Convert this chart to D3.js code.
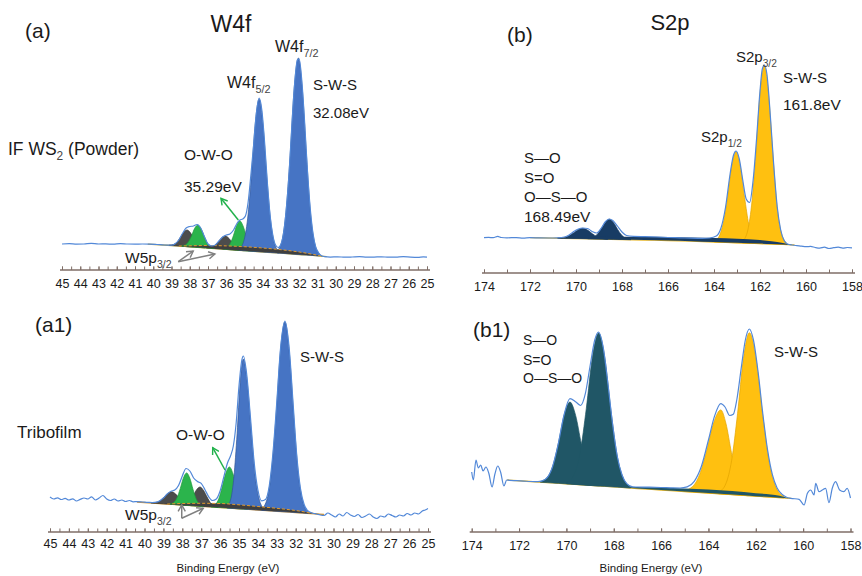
<!DOCTYPE html>
<html><head><meta charset="utf-8">
<script src="https://cdn.jsdelivr.net/npm/d3@7"></script>
<style>
body{margin:0;background:#fff}
svg{display:block}
text{font-family:"Liberation Sans",Arial,sans-serif;fill:#1a1a1a}
</style></head>
<body><svg id="c" width="862" height="576"></svg>
<script>
// ---------- tick labels ----------
const W_TICK_LABELS = [45,44,43,42,41,40,39,38,37,36,35,34,33,32,31,30,29,28,27,26,25];
const S_TICK_LABELS = [174,172,170,168,166,164,162,160,158];

// ---------- panel (a) W4f, IF WS2 powder : [eV, intensity a.u.] ----------
const aBackground = [[40.3,25.9],[39,24.5],[38,23.2],[37,22],[36,20.6],[35,19.3],[34,18],[33,16.8],[32,15.5],[31,14.2],[30.5,13.4]];
const aWedge  = [[38.6,0],[38,1],[37,2.5],[36,3.5],[35,4],[34,4],[33,3.5],[32,2.5],[31.2,1],[30.7,0]];
const aGray1  = [[39.13,0.15],[38.9,1.04],[38.71,3.5],[38.53,8.3],[38.34,14],[38.15,16.6],[37.96,14],[37.78,8.3],[37.59,3.5],[37.4,1.04],[37.18,0.15]];
const aGreen1 = [[38.46,0.2],[38.25,1.4],[38.08,4.7],[37.9,11.2],[37.73,18.8],[37.55,22.4],[37.38,18.8],[37.2,11.2],[37.03,4.7],[36.85,1.4],[36.64,0.2]];
const aGray2  = [[37.09,0.12],[36.85,0.83],[36.65,2.8],[36.45,6.65],[36.25,11.2],[36.05,13.3],[35.85,11.2],[35.65,6.65],[35.45,2.8],[35.25,0.83],[35.01,0.12]];
const aGreen2 = [[36.16,0.26],[35.95,1.84],[35.78,6.2],[35.6,14.7],[35.43,24.7],[35.25,29.4],[35.08,24.7],[34.9,14.7],[34.73,6.2],[34.55,1.84],[34.34,0.26]];
const aBlue52 = [[35.29,1.4],[35.04,9.5],[34.83,32],[34.62,76],[34.41,128],[34.2,152.7],[33.99,128],[33.78,76],[33.57,32],[33.36,9.5],[33.11,1.4]];
const aBlue72 = [[33.22,1.8],[32.95,12.3],[32.73,41.2],[32.5,98.2],[32.28,165.2],[32.05,196.4],[31.83,165.2],[31.6,98.2],[31.38,41.2],[31.15,12.3],[30.88,1.8]];
const aEnvelope = [[45,26],[44.6,26.3],[44.2,25.9],[43.8,26],[43.4,26.6],[43,26],[42.6,26.1],[42.2,25.8],[41.8,26.4],[41.4,26],[41,25.9],[40.6,26],[40.2,25.9],[39.8,25.5],[39.4,25],[39,24.8],[38.8,26.2],[38.6,30],[38.4,36.5],[38.2,42],[38,43.5],[37.8,44],[37.6,45.5],[37.4,42],[37.2,33.5],[37,26],[36.8,24],[36.6,25],[36.4,29],[36.2,33],[36,35],[35.8,36],[35.6,40],[35.4,47],[35.25,50],[35.1,51],[34.95,54],[34.8,68],[34.65,95],[34.5,125],[34.35,157],[34.2,172],[34.05,160],[33.9,128],[33.75,88],[33.6,55],[33.45,35],[33.3,25],[33.15,22.5],[33,26],[32.85,38],[32.7,63],[32.55,99],[32.4,146],[32.25,187],[32.1,210],[32,211],[31.85,187],[31.7,146],[31.55,99],[31.4,62],[31.25,37],[31.1,23],[30.95,17.5],[30.8,14.5],[30.6,13.3],[30.3,12.9],[29.9,13.2],[29.5,12.8],[29.1,13],[28.7,13.3],[28.3,12.8],[27.9,12.9],[27.5,13.2],[27.1,12.8],[26.7,12.9],[26.3,13.3],[25.9,12.9],[25.5,12.7],[25.2,13.1],[25,12.9]];

// ---------- panel (a1) W4f, tribofilm ----------
const a1Background = [[40.4,30],[39,28.2],[38,27],[37,25.7],[36,24.5],[35,23.2],[34,22],[33,20.7],[32,19.5],[31,18.2],[30.5,17.5]];
const a1Wedge  = [[38.8,0],[38,1.5],[37,3],[36,4],[35,4],[34,3.5],[33,3],[32,2],[31.3,0.8],[30.8,0]];
const a1Gray1  = [[39.65,0.11],[39.4,0.78],[39.19,2.6],[38.98,6.25],[38.77,10.5],[38.56,12.5],[38.35,10.5],[38.14,6.25],[37.93,2.6],[37.72,0.78],[37.47,0.11]];
const a1Green1 = [[38.65,0.29],[38.45,2],[38.28,6.8],[38.11,16.2],[37.94,27.2],[37.77,32.4],[37.6,27.2],[37.43,16.2],[37.26,6.8],[37.09,2],[36.89,0.29]];
const a1Gray2  = [[38.02,0.17],[37.8,1.2],[37.62,4],[37.43,9.6],[37.25,16.1],[37.06,19.2],[36.88,16.1],[36.69,9.6],[36.51,4],[36.32,1.2],[36.1,0.17]];
const a1Green2 = [[36.49,0.37],[36.26,2.6],[36.07,8.7],[35.89,20.6],[35.7,34.6],[35.51,41.2],[35.32,34.6],[35.14,20.6],[34.95,8.7],[34.76,2.6],[34.54,0.37]];
const a1Blue52 = [[35.63,1.4],[35.43,9.4],[35.27,31.5],[35.1,75],[34.94,126],[34.77,150],[34.56,126],[34.34,75],[34.13,31.5],[33.91,9.4],[33.65,1.4]];
const a1Blue72 = [[33.79,1.7],[33.51,11.9],[33.28,40],[33.04,95],[32.81,160],[32.57,190],[32.34,160],[32.1,95],[31.87,40],[31.63,11.9],[31.35,1.7]];
const a1Envelope = [[45,35],[44.8,33],[44.6,34.2],[44.4,32.5],[44.2,33.6],[44,32],[43.8,33.2],[43.6,31],[43.4,32.6],[43.2,34],[43,33],[42.8,35.2],[42.6,32],[42.4,34],[42.2,36.5],[42,33],[41.8,31.5],[41.6,33],[41.4,31],[41.2,32],[41,30.5],[40.8,31.5],[40.6,30.2],[40.4,30.4],[40.1,30],[39.8,29.6],[39.6,29.4],[39.3,30.2],[39,34],[38.8,38],[38.6,40.7],[38.4,42],[38.2,46.5],[38,56],[37.8,63.5],[37.6,61],[37.4,54],[37.2,50.5],[37,48.6],[36.8,42.3],[36.6,35.2],[36.4,31.5],[36.2,33],[36,41],[35.8,55.4],[35.6,69.5],[35.45,76],[35.3,86],[35.15,109],[35,146],[34.85,172],[34.77,176],[34.6,159],[34.4,116],[34.2,70],[34,42],[33.8,31.2],[33.6,32.5],[33.4,46],[33.2,79.7],[33,130],[32.8,184],[32.57,211],[32.35,185],[32.15,132],[31.95,78],[31.75,43.7],[31.55,27.2],[31.35,21.1],[31.1,18.8],[30.9,18],[30.7,17],[30.5,16.5],[30.3,19],[30.1,17],[29.9,15],[29.7,18],[29.5,16],[29.3,19.5],[29.1,17],[28.9,15.5],[28.7,17.5],[28.5,14.5],[28.3,16],[28.1,18],[27.9,15],[27.7,13.5],[27.5,16],[27.3,15],[27.1,18],[26.9,16.5],[26.7,15],[26.5,17],[26.3,16],[26.1,18.5],[25.9,17],[25.7,19],[25.5,18],[25.3,21],[25.15,22],[25,23.5]];

// ---------- panel (b) S2p, IF WS2 powder ----------
const bBackground = [[172,35.3],[171,34.9],[170,34.5],[169,34],[168,33.5],[167,33],[166,32.5],[165,31.8],[164,31],[163,30.2],[162,29.4],[161,28.6],[160.5,28]];
const bWedge   = [[170.8,0],[170,1],[169,2],[168,2.8],[167,3.2],[166,3.5],[165,3.8],[164,4],[163,4],[162,3.5],[161.5,2.8],[161,1.5],[160.6,0]];
const bNavy1   = [[170.8,0.09],[170.55,0.64],[170.34,2.16],[170.13,5.15],[169.92,8.66],[169.71,10.3],[169.5,8.66],[169.29,5.15],[169.08,2.16],[168.87,0.64],[168.62,0.09]];
const bNavy2   = [[169.49,0.18],[169.27,1.24],[169.09,4.2],[168.91,9.95],[168.73,16.7],[168.55,19.9],[168.37,16.7],[168.19,9.95],[168.01,4.2],[167.83,1.24],[167.61,0.18]];
const bYellow12 = [[164,0.8],[163.78,5.7],[163.6,19.1],[163.41,45.5],[163.23,76.5],[163.04,91],[162.86,76.5],[162.67,45.5],[162.49,19.1],[162.3,5.7],[162.08,0.8]];
const bYellow32 = [[162.77,1.6],[162.55,11.1],[162.37,37.4],[162.18,89],[162,149.7],[161.81,178],[161.63,149.7],[161.44,89],[161.26,37.4],[161.07,11.1],[160.85,1.6]];
const bEnvelope = [[174,35.4],[173.8,35.6],[173.6,35.3],[173.4,36.6],[173.25,35.5],[173,35.2],[172.6,35.4],[172.3,34.9],[172,35.3],[171.6,35.1],[171.2,35],[170.8,35.2],[170.5,36],[170.3,38],[170.1,41.5],[169.9,44],[169.7,45],[169.5,44.5],[169.3,41.5],[169.1,40],[168.9,45],[168.75,50.5],[168.55,54],[168.4,52.5],[168.2,47],[168,41],[167.8,37.5],[167.5,36.6],[167,36.3],[166.5,36],[166,35.5],[165.5,35.2],[165,34.8],[164.5,34.6],[164.2,35],[163.9,37],[163.7,44.7],[163.5,65.5],[163.3,99],[163.15,118],[163.04,122],[162.9,114],[162.75,93],[162.6,74],[162.45,70.5],[162.3,92.5],[162.15,134],[162,182],[161.9,204],[161.81,208],[161.7,199],[161.55,157],[161.4,107],[161.25,66],[161.1,43],[160.95,32.5],[160.8,29],[160.6,28],[160.4,27.4],[160.2,26.9],[160,26.3],[159.8,26.6],[159.6,25.5],[159.4,24.9],[159.2,25.8],[159,24.5],[158.8,25.3],[158.6,25.8],[158.4,24.9],[158.2,25.5],[158,25.2]];

// ---------- panel (b1) S2p, tribofilm ----------
const b1Background = [[172.5,52],[171,49.7],[170,48.2],[169,46.6],[168,45.1],[167,43.5],[166,42],[165,40.5],[164,38.9],[163,37.4],[162,35.8],[161,34.3],[160.5,33.6]];
const b1Wedge   = [[167.6,0],[167,1.5],[166,2.5],[165,3],[164,3.5],[163,3.5],[162,3],[161,2],[160.6,0]];
const b1Teal1   = [[171.1,0.74],[170.81,5.1],[170.57,17.2],[170.33,41],[170.09,69],[169.85,82],[169.61,69],[169.37,41],[169.13,17.2],[168.89,5.1],[168.6,0.74]];
const b1Teal2   = [[169.99,1.4],[169.68,9.6],[169.42,32],[169.16,76.5],[168.9,128.7],[168.64,153],[168.38,128.7],[168.12,76.5],[167.86,32],[167.6,9.6],[167.29,1.4]];
const b1Yellow12 = [[165.04,0.76],[164.68,5.25],[164.38,17.6],[164.08,42],[163.78,70.6],[163.48,84],[163.26,70.6],[163.03,42],[162.81,17.6],[162.58,5.25],[162.31,0.76]];
const b1Yellow32 = [[163.57,1.5],[163.27,10.2],[163.02,34.2],[162.77,81.5],[162.52,137],[162.27,163],[161.99,137],[161.71,81.5],[161.43,34.2],[161.15,10.2],[160.81,1.5]];
const b1Envelope = [[174,60],[173.93,52],[173.82,72],[173.72,64],[173.62,67],[173.52,61],[173.4,65],[173.28,59],[173.14,45],[173.02,58],[172.9,66],[172.78,60],[172.64,46],[172.52,52],[172.4,51.6],[172.1,51.3],[171.8,50.9],[171.5,50.5],[171.2,50.3],[170.9,52.5],[170.6,64.3],[170.35,87.4],[170.1,117],[169.85,133.4],[169.6,130],[169.4,126.5],[169.2,138.3],[169,166],[168.8,192.3],[168.64,200],[168.45,185.3],[168.25,149],[168.05,108],[167.85,75.5],[167.65,57],[167.45,48.3],[167.2,45.1],[167,45],[166.5,44.8],[166,44.5],[165.5,44.1],[165.2,44],[164.9,45.1],[164.6,50.7],[164.3,65.5],[164,92],[163.75,115.4],[163.48,128.4],[163.3,125],[163.1,116.5],[162.95,117.7],[162.8,132.5],[162.6,166.6],[162.45,191],[162.27,203],[162.1,192],[161.9,159.3],[161.7,117.5],[161.5,81.6],[161.3,57.4],[161.1,44.1],[160.9,37.9],[160.7,34.8],[160.52,33.7],[160.17,32.7],[159.96,27],[159.82,38.7],[159.68,42],[159.54,37],[159.47,48.7],[159.33,40.3],[159.19,42],[159.05,43.7],[158.91,29.3],[158.77,43.7],[158.63,50.3],[158.46,42],[158.28,40.3],[158.14,43.7],[158,34]];

// ---------- colours ----------
const C = {blue:"#4674c4", blueEdge:"#2f5597", green:"#2bb44c", greenEdge:"#1c9a3c", gray:"#4c4c4c",
  yellow:"#ffc010", yellowEdge:"#e2a400", navy:"#183c64", teal:"#205666", env:"#5288d8", axis:"#7f6e67"};

const svg = d3.select("#c");
const defs = svg.append("defs");
function marker(id, col){
  defs.append("marker").attr("id",id).attr("viewBox","0 0 10 10").attr("refX",8).attr("refY",5)
    .attr("markerWidth",9).attr("markerHeight",9).attr("markerUnits","userSpaceOnUse").attr("orient","auto")
    .append("path").attr("d","M1,1 L8,5 L1,9").attr("fill","none").attr("stroke",col).attr("stroke-width",1.6);
}
marker("mg", "#22b14c"); marker("mk", "#808080");

function panel(cfg){
  const g = svg.append("g");
  const x = d3.scaleLinear().domain(cfg.xDomain).range(cfg.xRange);
  const y = d3.scaleLinear().domain([0,220]).range([cfg.axisY, cfg.axisY-220]);
  const bg = d3.scaleLinear().domain(cfg.bg.map(d=>d[0])).range(cfg.bg.map(d=>d[1]));
  const area = d3.area().x(d=>x(d[0])).y0(d=>y(bg(d[0]))).y1(d=>y(bg(d[0])+d[1])).curve(d3.curveMonotoneX);
  const line = d3.line().x(d=>x(d[0])).y(d=>y(d[1])).curve(d3.curveMonotoneX);
  g.append("path").attr("d", line(cfg.bg)).attr("fill","none").attr("stroke",cfg.bgColor).attr("stroke-width",1.3);
  cfg.comps.forEach(c=>{
    g.append("path").attr("d", area(c.data)).attr("fill",c.fill).attr("stroke",c.edge).attr("stroke-width",0.7);
  });
  if (cfg.wedge){
    g.append("path").attr("d", area(cfg.wedge)).attr("fill",cfg.wedgeColor);
    if (cfg.wedgeLine){
      const top = d3.line().x(d=>x(d[0])).y(d=>y(bg(d[0])+d[1])).curve(d3.curveMonotoneX);
      g.append("path").attr("d", top(cfg.wedge)).attr("fill","none").attr("stroke",cfg.wedgeLine)
        .attr("stroke-width",1).attr("stroke-dasharray","3,2");
    }
  }
  g.append("path").attr("d", line(cfg.env)).attr("fill","none").attr("stroke",C.env).attr("stroke-width",1.2);
  const ax = g.append("g").attr("transform",`translate(0,${cfg.axisY})`);
  ax.append("g").call(d3.axisBottom(x).tickValues(cfg.minor).tickSizeInner(-3.5).tickSizeOuter(0).tickFormat(""));
  ax.append("g").call(d3.axisBottom(x).tickValues(cfg.labels).tickSizeInner(-3.5).tickSizeOuter(0)
      .tickPadding(cfg.pad).tickFormat(d3.format("d")));
  ax.selectAll(".domain").attr("stroke","none");
  ax.selectAll(".tick line").attr("stroke",C.axis).attr("stroke-width",1);
  ax.selectAll(".tick text").attr("font-size",12.5).attr("fill","#222")
    .attr("font-family","'Liberation Sans',Arial,sans-serif");
  ax.append("line").attr("x1",cfg.xRange[0]-2).attr("x2",cfg.xRange[1]+3).attr("y1",0).attr("y2",0)
    .attr("stroke",C.axis).attr("stroke-width",1.6);
  return {g,x,y};
}

function txt(parts, px, py, size, anchor){
  const t = svg.append("text").attr("x",px).attr("y",py).attr("font-size",size).attr("text-anchor",anchor||"start");
  let sub=false;
  parts.forEach(p=>{
    if (typeof p === "string"){
      const s = t.append("tspan").text(p);
      if (sub){ s.attr("dy", -0.3*size); sub=false; }
    } else {
      t.append("tspan").text(p.sub).attr("font-size", size*0.68).attr("dy", 0.3*size).attr("fill","#444");
      sub=true;
    }
  });
  return t;
}
function arrow(P, from, to, col, mk){
  svg.append("line").attr("x1",P.x(from[0])).attr("y1",P.y(from[1])).attr("x2",P.x(to[0])).attr("y2",P.y(to[1]))
    .attr("stroke",col).attr("stroke-width",1.5).attr("marker-end",`url(#${mk})`);
}

const wMinor = d3.range(25, 45.01, 0.5);
const sMinor = d3.range(158, 174.01, 1);

const PA = panel({xDomain:[45,25], xRange:[62,427], axisY:270, bg:aBackground, bgColor:"#b8a23c",
  comps:[{data:aGray1,fill:C.gray,edge:"#333"},{data:aGray2,fill:C.gray,edge:"#333"},
         {data:aGreen1,fill:C.green,edge:C.greenEdge},{data:aGreen2,fill:C.green,edge:C.greenEdge},
         {data:aBlue52,fill:C.blue,edge:C.blueEdge},{data:aBlue72,fill:C.blue,edge:C.blueEdge}],
  wedge:aWedge, wedgeColor:"#3f3f3f", wedgeLine:"#e39a2d", env:aEnvelope, minor:wMinor, labels:W_TICK_LABELS, pad:9.5});

const PA1 = panel({xDomain:[45,25], xRange:[50,428], axisY:532, bg:a1Background, bgColor:"#d8962e",
  comps:[{data:a1Gray1,fill:C.gray,edge:"#333"},{data:a1Gray2,fill:C.gray,edge:"#333"},
         {data:a1Green1,fill:C.green,edge:C.greenEdge},{data:a1Green2,fill:C.green,edge:C.greenEdge},
         {data:a1Blue52,fill:C.blue,edge:C.blueEdge},{data:a1Blue72,fill:C.blue,edge:C.blueEdge}],
  wedge:a1Wedge, wedgeColor:"#3f3f3f", wedgeLine:"#e39a2d", env:a1Envelope, minor:wMinor, labels:W_TICK_LABELS, pad:7.5});

const PB = panel({xDomain:[174,158], xRange:[484,852], axisY:273, bg:bBackground, bgColor:"#e6b422",
  comps:[{data:bNavy1,fill:C.navy,edge:C.navy},{data:bNavy2,fill:C.navy,edge:C.navy},
         {data:bYellow12,fill:C.yellow,edge:C.yellowEdge},{data:bYellow32,fill:C.yellow,edge:C.yellowEdge}],
  wedge:bWedge, wedgeColor:C.navy, env:bEnvelope, minor:sMinor, labels:S_TICK_LABELS, pad:9.5});

const PB1 = panel({xDomain:[174,158], xRange:[471.7,850.5], axisY:532, bg:b1Background, bgColor:"#e6b422",
  comps:[{data:b1Teal1,fill:C.teal,edge:C.teal},{data:b1Teal2,fill:C.teal,edge:C.teal},
         {data:b1Yellow12,fill:C.yellow,edge:C.yellowEdge},{data:b1Yellow32,fill:C.yellow,edge:C.yellowEdge}],
  wedge:b1Wedge, wedgeColor:C.teal, env:b1Envelope, minor:sMinor, labels:S_TICK_LABELS, pad:9.5});

// ---------- annotations ----------
txt(["(a)"], 25, 38, 21);
txt(["W4f"], 231, 32, 23, "middle");
txt(["W4f",{sub:"7/2"}], 275, 52, 16);
txt(["W4f",{sub:"5/2"}], 227, 88, 16);
txt(["S-W-S"], 313, 90, 15);
txt(["32.08eV"], 313, 118, 15);
txt(["IF WS",{sub:"2"}," (Powder)"], 8, 155, 17.5);
txt(["O-W-O"], 184, 160, 15.5);
txt(["35.29eV"], 184, 192, 15.5);
txt(["W5p",{sub:"3/2"}], 125, 263, 15.5);
arrow(PA, [35.34,50], [36.29,71.7], "#22b14c", "mg");
arrow(PA, [38.63,8.3], [37.81,19], "#808080", "mk");
arrow(PA, [38.63,8.3], [36.62,16], "#808080", "mk");

txt(["(a1)"], 35, 332, 21);
txt(["Tribofilm"], 17, 438, 17);
txt(["S-W-S"], 300, 362, 15);
txt(["O-W-O"], 176, 440, 15.5);
txt(["W5p",{sub:"3/2"}], 125, 520, 15.5);
arrow(PA1, [35.74,62], [36.39,84.3], "#22b14c", "mg");
arrow(PA1, [38.03,13.7], [38.03,27], "#808080", "mk");
arrow(PA1, [38.03,13.7], [36.89,23.7], "#808080", "mk");
txt(["Binding Energy (eV)"], 228, 572, 11.5, "middle");

txt(["(b)"], 507, 42, 21);
txt(["S2p"], 670, 30, 22, "middle");
txt(["S2p",{sub:"3/2"}], 736, 62, 15);
txt(["S-W-S"], 783, 83, 15);
txt(["161.8eV"], 783, 110, 15.5);
txt(["S2p",{sub:"1/2"}], 701, 142, 15);
txt(["S—O"], 524, 163, 15);
txt(["S=O"], 524, 183, 15);
txt(["O—S—O"], 524, 202, 15);
txt(["168.49eV"], 524, 222, 15.5);

txt(["(b1)"], 473, 337, 21);
txt(["S—O"], 523, 345, 14);
txt(["S=O"], 523, 365, 14);
txt(["O—S—O"], 523, 383, 14);
txt(["S-W-S"], 774, 357, 15);
txt(["Binding Energy (eV)"], 651, 572, 11.5, "middle");
</script>
</body></html>
